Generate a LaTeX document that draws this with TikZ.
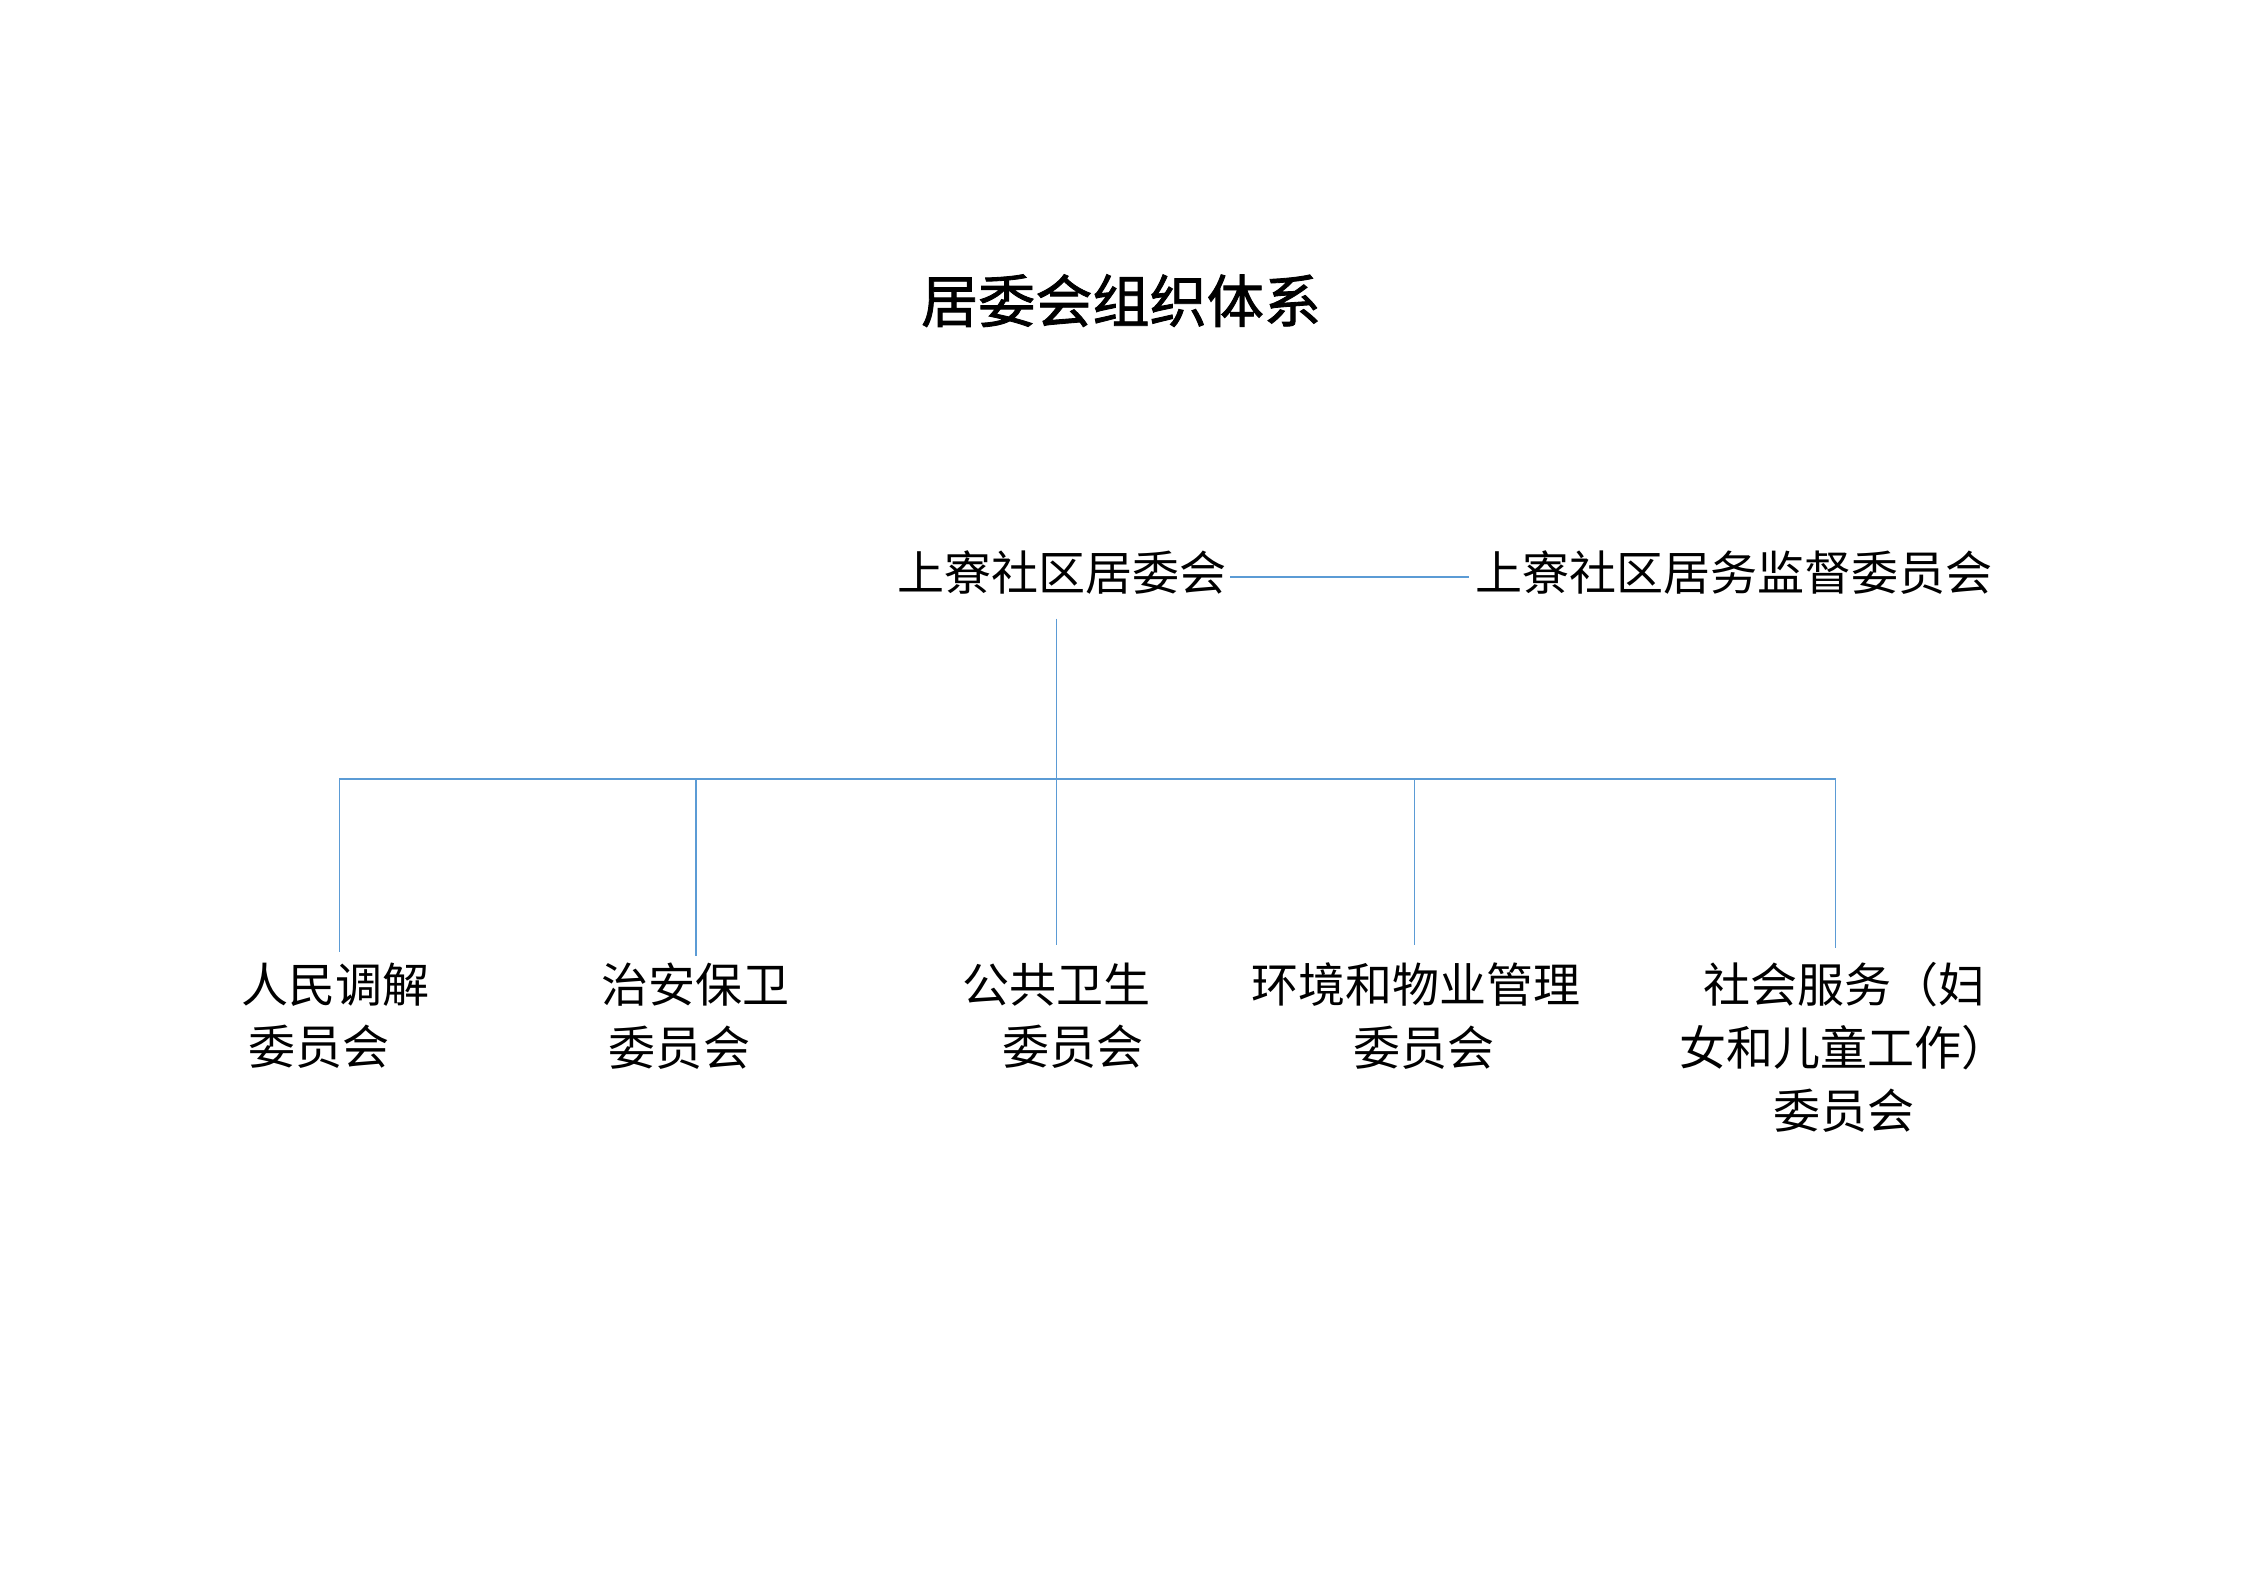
\documentclass[tikz,border=0pt]{standalone}
\usepackage{fontspec}
\setmainfont{Noto Sans CJK SC}
\newfontfamily\cjk{Noto Sans CJK SC}
\newfontfamily\cjkb{Noto Sans CJK SC}[FakeBold=1.5]
\begin{document}
\begin{tikzpicture}[x=0.01894cm,y=-0.01894cm,
  lbl/.style={inner sep=0pt,font=\cjk\fontsize{17.7}{23.6}\selectfont},
  ln/.style={draw={rgb,255:red,91;green,155;blue,213},line width=0.6pt}]
\useasboundingbox (0,0) rectangle (1568,1109);
\node[inner sep=0pt,font=\cjkb\fontsize{21.5}{26}\selectfont] (title) at (783,210) {居委会组织体系};
\node[lbl] (top) at (742,400) {上寮社区居委会};
\node[lbl] (sup) at (1211,400) {上寮社区居务监督委员会};
\draw[ln] (top.east) ++(2,3) coordinate (a1) -- (1026,403) coordinate (a2);
\coordinate (t0) at (738,432);
\coordinate (bus) at (738,544);
\draw[ln] (t0) -- (bus);
\draw[ln] (237,544) coordinate (bl) -- (1282,544) coordinate (br);
\node[lbl,align=left,anchor=north west] (n1) at (168,672) {人民调解\\\hspace{0.15em}委员会};
\node[lbl,align=left,anchor=north west] (n2) at (420,672) {治安保卫\\\hspace{0.15em}委员会};
\node[lbl,align=center,anchor=north] (n3) at (738,672) {公共卫生\\\hspace{0.7em}委员会};
\node[lbl,align=center,anchor=north] (n4) at (989,672) {环境和物业管理\\\hspace{0.35em}委员会};
\node[lbl,align=center,anchor=north] (n5) at (1288,672) {社会服务（妇\\女和儿童工作）\\委员会};
\draw[ln] (bl) -- (237,665) coordinate (d1);
\draw[ln] (486,544) coordinate (b2) -- (486,668) coordinate (d2);
\draw[ln] (bus) -- (738,660) coordinate (d3);
\draw[ln] (988,544) coordinate (b4) -- (988,660) coordinate (d4);
\draw[ln] (br) -- (1282,662) coordinate (d5);
\end{tikzpicture}
\end{document}
